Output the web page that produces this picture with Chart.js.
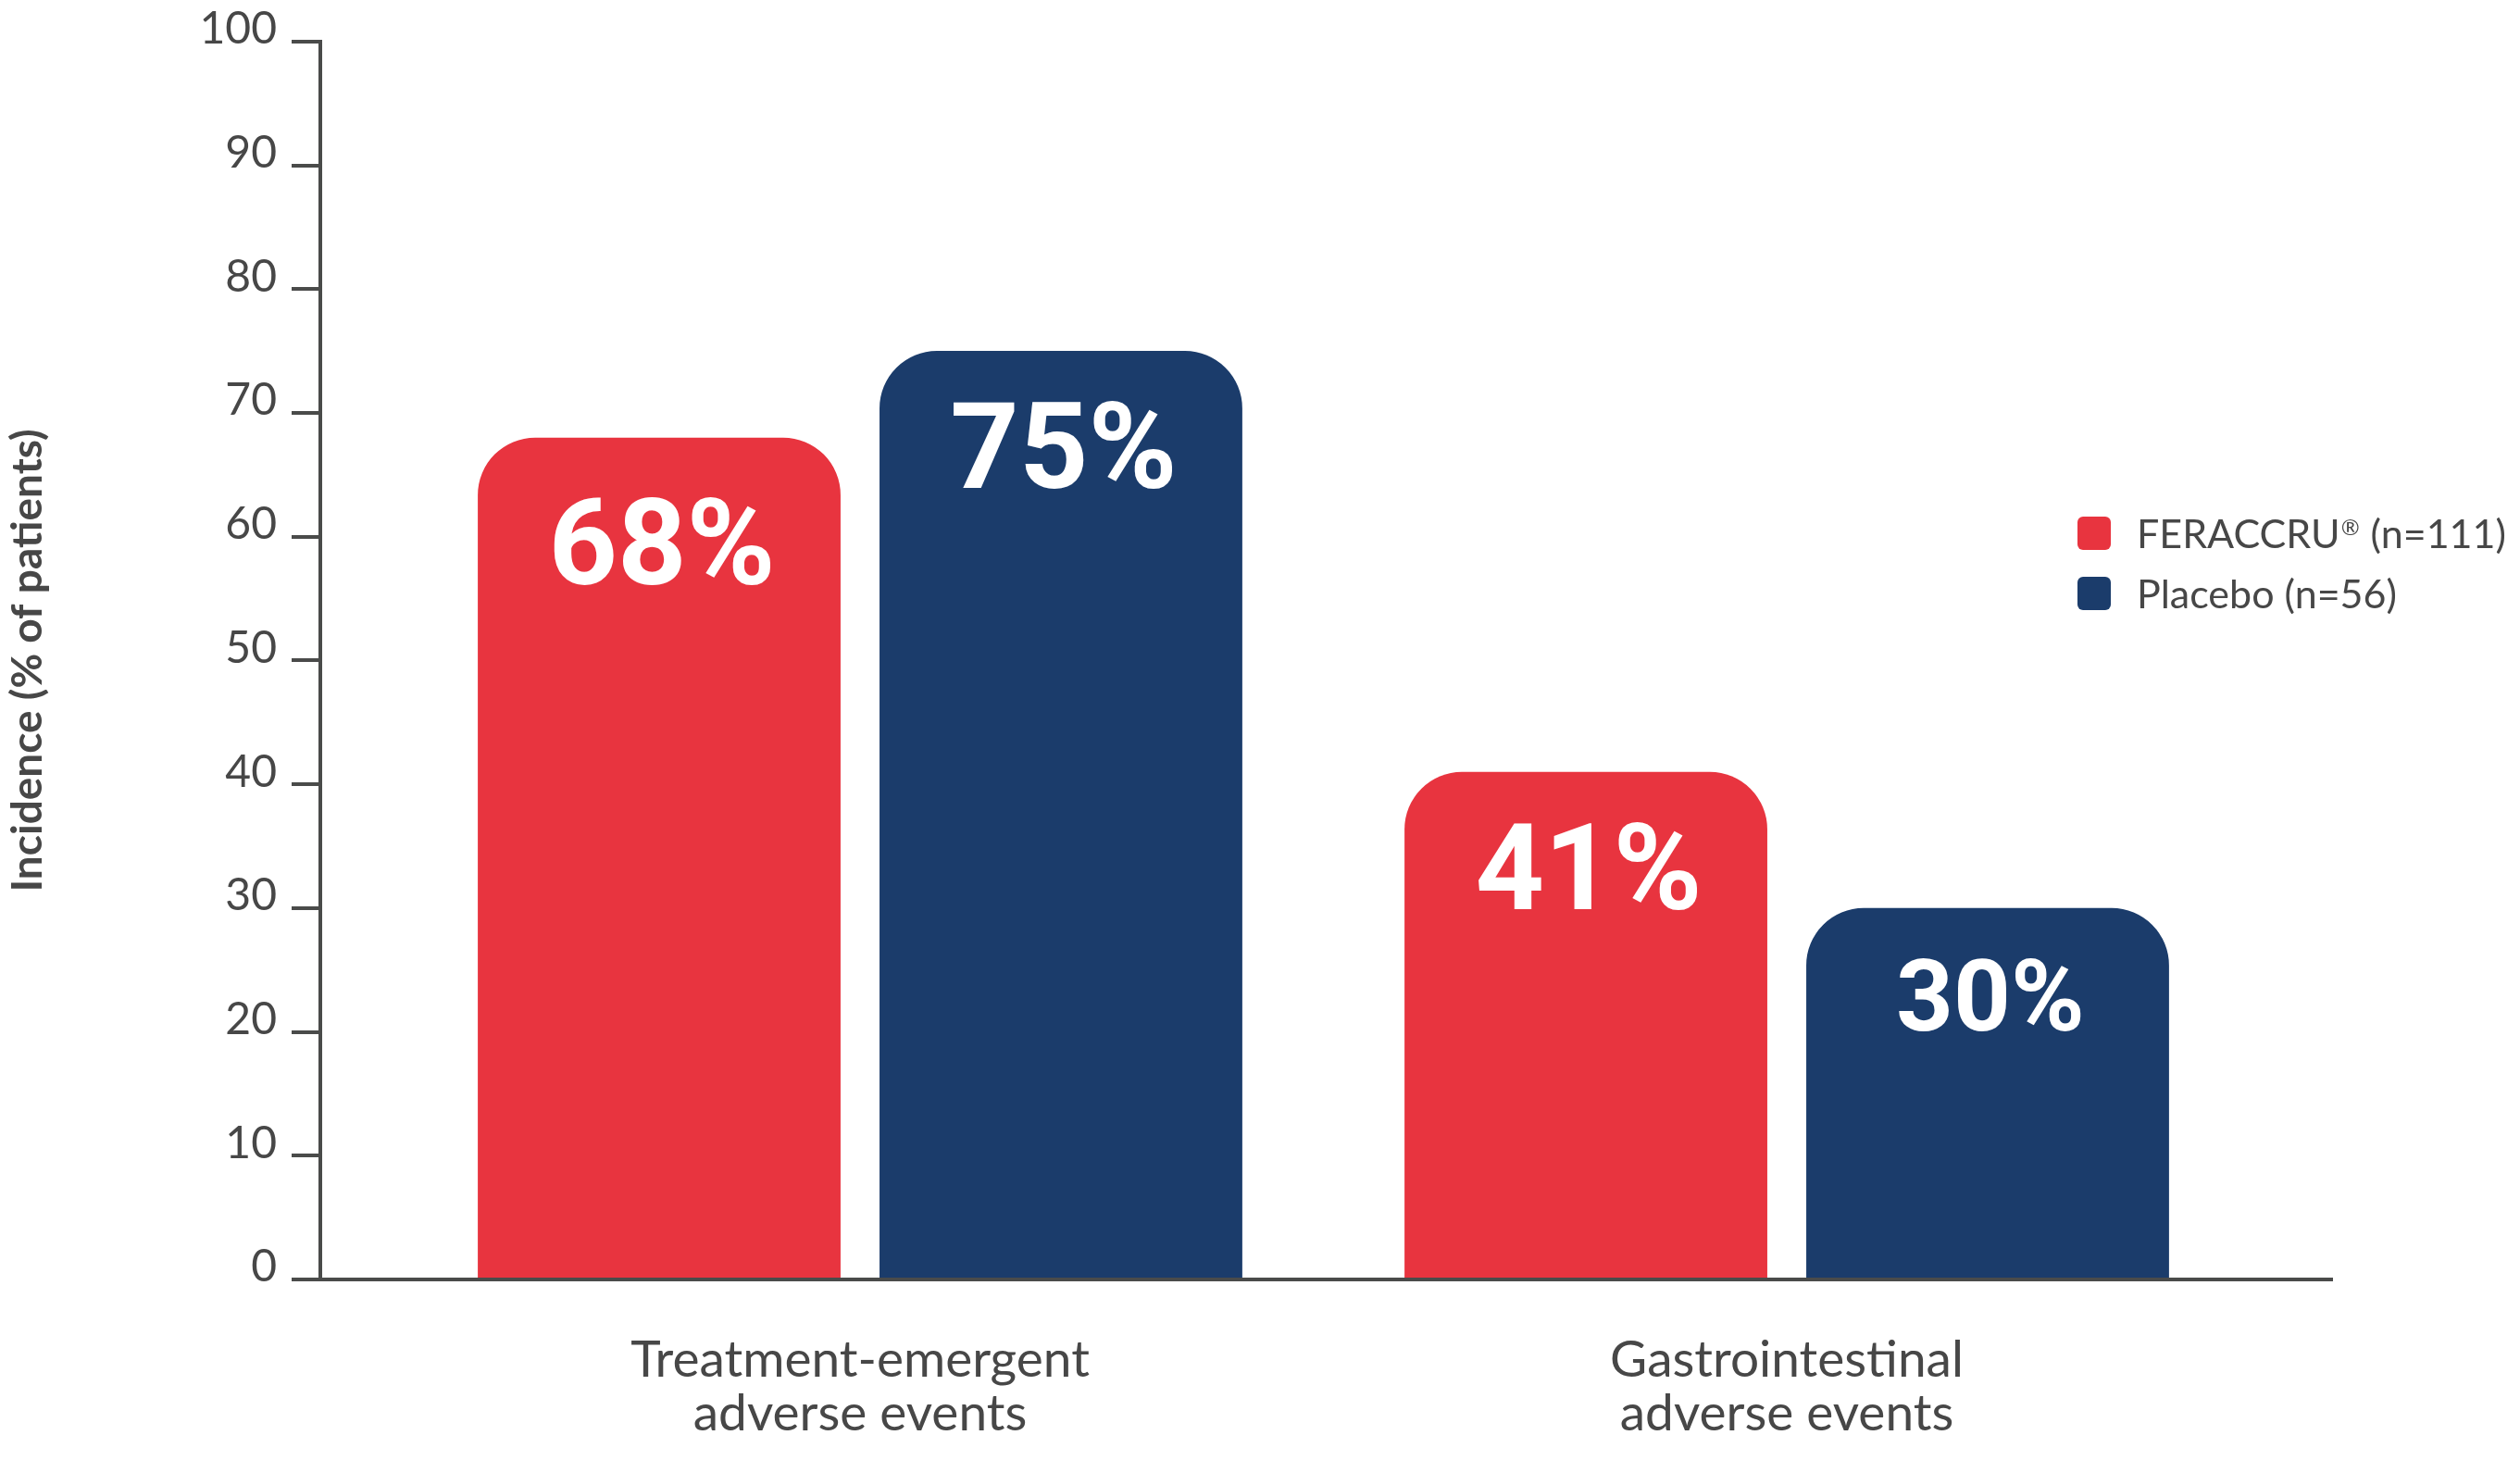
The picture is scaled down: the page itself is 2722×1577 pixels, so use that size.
<!DOCTYPE html>
<html>
<head>
<meta charset="utf-8">
<title>Incidence of adverse events</title>
<script src="https://cdn.jsdelivr.net/npm/chart.js@4.4.1/dist/chart.umd.min.js"></script>
<style>
  html, body { margin: 0; padding: 0; background: #fff; }
  #wrap { width: 2722px; height: 1577px; }
</style>
</head>
<body>
<div id="wrap"><canvas id="barChart"></canvas></div>
<script>
// data
const categories = [
    ['Treatment-emergent', 'adverse events'],
    ['Gastrointestinal', 'adverse events']
];
const seriesNames = ['FERACCRU\u00AE (n=111)', 'Placebo (n=56)'];
const feraccru = [68, 41];
const placebo = [75, 30];
const yTicks = [0, 10, 20, 30, 40, 50, 60, 70, 80, 90, 100];

const RED = '#E8343F';
const NAVY = '#1B3C6B';
const GREY = '#4A4B4A';
const TEXT = '#474747';

// value labels inside bars
const barLabels = {
    id: 'barLabels',
    afterDatasetsDraw(chart, args, opts) {
        const ctx = chart.ctx;
        ctx.save();
        ctx.fillStyle = '#fff';
        ctx.textAlign = 'center';
        ctx.textBaseline = 'alphabetic';
        chart.data.datasets.forEach((ds, di) => {
            chart.getDatasetMeta(di).data.forEach((bar, i) => {
                const size = opts.sizes[di][i];
                ctx.font = 'bold ' + size + 'px Roboto';
                ctx.fillText(ds.data[i].y + '%', bar.x + 3, bar.y + opts.offsets[di][i]);
            });
        });
        ctx.restore();
    }
};

// legend sits inside the plot on the right, ® drawn small and raised
const sideLegend = {
    id: 'sideLegend',
    afterDraw(chart, args, opts) {
        const ctx = chart.ctx;
        ctx.save();
        ctx.textBaseline = 'alphabetic';
        ctx.textAlign = 'left';
        chart.data.datasets.forEach((ds, i) => {
            const y = opts.y + i * opts.gap;
            ctx.fillStyle = ds.backgroundColor;
            ctx.beginPath();
            ctx.roundRect(opts.x, y, opts.box, opts.box, 6);
            ctx.fill();
            ctx.fillStyle = TEXT;
            const base = y + opts.box / 2 + 16;
            let x = opts.x + 64;
            const parts = ds.label.split('\u00AE');
            parts.forEach((p, pi) => {
                ctx.font = '43px Lato';
                ctx.fillText(p, x, base);
                x += ctx.measureText(p).width;
                if (pi < parts.length - 1) {
                    ctx.font = '24px Lato';
                    ctx.fillText('\u00AE', x + 1, base - 14);
                    x += ctx.measureText('\u00AE').width + 2;
                }
            });
        });
        ctx.restore();
    }
};

const toPoints = arr => arr.map((v, i) => ({ x: i + 1, y: v }));

new Chart(document.getElementById('barChart'), {
    type: 'bar',
    data: {
        datasets: [
            {
                label: seriesNames[0],
                data: toPoints(feraccru),
                backgroundColor: RED,
                borderRadius: 62,
                categoryPercentage: 0.867,
                barPercentage: 0.903
            },
            {
                label: seriesNames[1],
                data: toPoints(placebo),
                backgroundColor: NAVY,
                borderRadius: 62,
                categoryPercentage: 0.867,
                barPercentage: 0.903
            }
        ]
    },
    options: {
        responsive: true,
        maintainAspectRatio: false,
        animation: false,
        layout: { padding: { top: 43, right: 203, bottom: 0, left: 0 } },
        plugins: {
            legend: { display: false },
            tooltip: { enabled: false },
            barLabels: {
                sizes: [[130, 130], [130, 108]],
                offsets: [[158, 148], [148, 132]]
            },
            sideLegend: { x: 2244, y: 558, gap: 65, box: 36 }
        },
        scales: {
            x: {
                type: 'linear',
                offset: false,
                min: 0.4176,
                max: 2.5884,
                afterBuildTicks: s => { s.ticks = categories.map((c, i) => ({ value: i + 1 })); },
                afterFit: s => { s.height = 195; },
                grid: { display: false },
                border: { display: true, color: GREY, width: 4 },
                ticks: {
                    callback: v => categories[v - 1],
                    color: TEXT,
                    font: { family: 'Lato', size: 55, lineHeight: 1.06 },
                    padding: 50,
                    maxRotation: 0,
                    autoSkip: false
                }
            },
            y: {
                min: 0,
                max: 100,
                afterBuildTicks: s => { s.ticks = yTicks.map(v => ({ value: v })); },
                afterFit: s => { s.width = 346; },
                grid: {
                    drawOnChartArea: false,
                    drawTicks: true,
                    tickLength: 31,
                    color: GREY,
                    lineWidth: 4
                },
                border: { display: true, color: GREY, width: 4 },
                ticks: {
                    color: TEXT,
                    font: { family: 'Lato', size: 48 },
                    padding: 16,
                    labelOffset: -13
                },
                title: {
                    display: true,
                    text: 'Incidence (% of patients)',
                    color: TEXT,
                    font: { family: 'Lato', size: 46, weight: 'bold' },
                    padding: { top: 3, bottom: 0 }
                }
            }
        }
    },
    plugins: [barLabels, sideLegend]
});
</script>
</body>
</html>
